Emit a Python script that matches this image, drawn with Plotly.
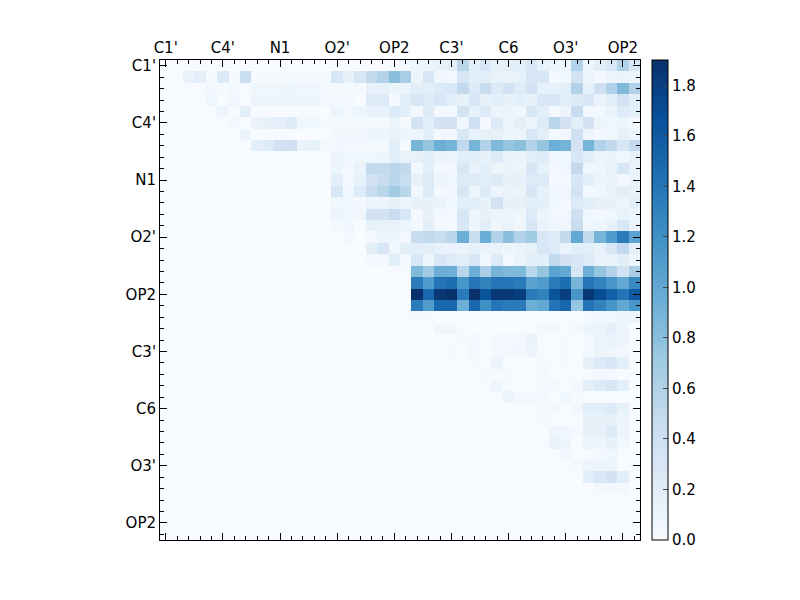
import plotly.graph_objects as go

n = 42
tick_pos = [0, 5, 10, 15, 20, 25, 30, 35, 40]
tick_text = ["C1'", "C4'", "N1", "O2'", "OP2", "C3'", "C6", "O3'", "OP2"]

# rows 0-17, columns 0-20
left = [
    [0] * 21,
    [0, 0, .12, .18, .02, .25, .02, .45, .02, .02, .02, .02, .02, .02, .02, .3, .15, .3, .5, .6, .8],
    [0, 0, 0, 0, .05, .02, .05, .02, .08, .08, .08, .1, .07, .07, .05, .03, .03, .03, .15, .15, .1],
    [0, 0, 0, 0, .08, 0, .06, 0, .1, .1, .1, .1, .1, .1, .05, .05, .05, 0, .25, .25, .05],
    [0, 0, 0, 0, 0, .1, 0, .2, 0, 0, 0, 0, 0, 0, 0, .1, .05, .1, .15, .15, .25],
    [0, 0, 0, 0, 0, 0, .05, 0, .12, .15, .18, .25, .08, .08, .03, .03, .03, .03, .03, .03, .1],
    [0, 0, 0, 0, 0, 0, 0, .1, 0, 0, 0, 0, 0, 0, 0, .06, .06, .06, .1, .1, .15],
    [0, 0, 0, 0, 0, 0, 0, 0, .2, .25, .35, .4, .12, .15, .05, .05, .05, .05, .03, .03, .2],
    [0, 0, 0, 0, 0, 0, 0, 0, 0, 0, 0, 0, 0, 0, 0, .1, .08, .08, .08, .1, .2],
    [0, 0, 0, 0, 0, 0, 0, 0, 0, 0, 0, 0, 0, 0, 0, .1, .05, .12, .5, .5, .55],
    [0, 0, 0, 0, 0, 0, 0, 0, 0, 0, 0, 0, 0, 0, 0, .2, .05, .15, .35, .45, .55],
    [0, 0, 0, 0, 0, 0, 0, 0, 0, 0, 0, 0, 0, 0, 0, .3, .08, .25, .45, .55, .7],
    [0, 0, 0, 0, 0, 0, 0, 0, 0, 0, 0, 0, 0, 0, 0, .08, .08, .05, .1, .1, .15],
    [0, 0, 0, 0, 0, 0, 0, 0, 0, 0, 0, 0, 0, 0, 0, .1, .08, .08, .35, .35, .45],
    [0, 0, 0, 0, 0, 0, 0, 0, 0, 0, 0, 0, 0, 0, 0, .05, .08, 0, .15, .15, .15],
    [0, 0, 0, 0, 0, 0, 0, 0, 0, 0, 0, 0, 0, 0, 0, 0, .05, 0, .05, .1, .1],
    [0, 0, 0, 0, 0, 0, 0, 0, 0, 0, 0, 0, 0, 0, 0, 0, 0, 0, .2, .3, .08],
    [0, 0, 0, 0, 0, 0, 0, 0, 0, 0, 0, 0, 0, 0, 0, 0, 0, 0, .05, .05, .2],
]

# rows 0-21, columns 21-41
right = [
    [.05, .1, .1, .15, .2, .55, .2, .3, .15, .2, .2, .3, .15, .1, .1, .6, .1, .2, .3, .6, .3],
    [.65, .1, .3, .08, .05, .3, .2, .2, .15, .12, .15, .3, .3, .05, .08, .35, .1, .05, .1, .12, .1],
    [.12, .2, .2, .25, .3, .5, .25, .45, .25, .35, .25, .35, .15, .15, .2, .6, .15, .4, .6, .85, .6],
    [.2, .3, .25, .3, .2, .15, .3, .15, .2, .15, .2, .15, .3, .3, .2, .25, .3, .12, .2, .35, .2],
    [.2, .05, .25, .05, .05, .35, .15, .25, .1, .12, .08, .3, .2, .05, .1, .45, .05, .05, .12, .25, .2],
    [.03, .35, .2, .35, .35, .08, .4, .05, .25, .1, .2, .1, .25, .55, .35, .2, .35, .1, .08, .1, .05],
    [.1, .1, .2, .05, .05, .3, .15, .15, .15, .1, .1, .3, .2, .05, .05, .4, .1, .05, .08, .15, .1],
    [.02, .9, .75, .95, .9, .5, .9, .6, .85, .75, .8, .6, .75, .95, .9, .35, .9, .6, .5, .3, .5],
    [.12, .15, .2, .12, .1, .2, .2, .15, .25, .12, .12, .2, .25, .08, .08, .3, .2, .1, .12, .08, .15],
    [.5, .05, .2, .05, .05, .3, .12, .2, .1, .12, .1, .3, .15, .05, .08, .5, .08, .08, .12, .3, .12],
    [.45, .15, .25, .1, .08, .25, .25, .2, .25, .15, .15, .25, .25, .05, .05, .3, .2, .1, .12, .05, .12],
    [.55, .05, .25, .05, .05, .3, .1, .25, .1, .12, .1, .3, .15, .08, .08, .35, .05, .08, .12, .2, .15],
    [.1, .15, .15, .12, .08, .2, .2, .15, .35, .15, .15, .2, .2, .08, .05, .25, .2, .15, .15, .1, .2],
    [.3, .05, .15, .05, .05, .3, .1, .15, .1, .1, .08, .25, .1, .05, .05, .4, .08, .05, .08, .15, .1],
    [.1, .05, .2, .05, .05, .3, .1, .2, .08, .12, .08, .3, .12, .08, .08, .45, .08, .1, .15, .3, .12],
    [.05, .45, .5, .45, .55, .95, .45, .95, .6, .8, .6, .7, .3, .25, .5, 1.0, .5, .9, 1.1, 1.35, 1.05],
    [.2, .2, .2, .15, .12, .12, .15, .12, .12, .1, .12, .15, .3, .25, .12, .2, .2, .15, .3, .5, .2],
    [.05, .3, .1, .3, .25, .2, .3, .08, .25, .05, .12, .2, .2, .5, .35, .3, .25, .12, .12, .2, .1],
    [.02, .85, .7, .95, .95, .55, .95, .65, .9, .85, .85, .55, .75, 1.05, 1.0, .3, .95, .75, .6, .35, .65],
    [0, 1.35, 1.1, 1.4, 1.45, 1.15, 1.4, 1.3, 1.4, 1.4, 1.35, 1.05, 1.1, 1.35, 1.45, .9, 1.4, 1.3, 1.15, 1.0, 1.25],
    [0, 1.9, 1.5, 1.85, 1.9, 1.35, 1.9, 1.65, 1.85, 1.85, 1.8, 1.35, 1.3, 1.65, 1.8, 1.15, 1.85, 1.7, 1.55, 1.4, 1.6],
    [0, 1.35, 1.1, 1.5, 1.5, .95, 1.5, 1.2, 1.4, 1.35, 1.35, .95, 1.0, 1.4, 1.5, .75, 1.4, 1.3, 1.15, 1.0, 1.15],
]

# rows 22-41, columns 21-41
lower = [
    [0, .03, .03, 0, 0, 0, 0, 0, 0, 0, 0, 0, 0, 0, 0, 0, .05, .08, .08, .1, .1],
    [0, 0, 0, .08, .08, 0, 0, 0, 0, 0, 0, 0, .06, .06, 0, .04, .1, .12, .18, .1, 0],
    [0, 0, 0, 0, 0, .03, .05, 0, .05, .04, .05, .12, 0, 0, .03, 0, .05, .1, .12, .1, 0],
    [0, 0, 0, 0, .03, 0, .05, 0, .05, .04, .06, .1, 0, 0, .03, 0, .04, .1, .08, .06, 0],
    [0, 0, 0, 0, 0, 0, .03, 0, .1, 0, 0, 0, .03, 0, .03, 0, .15, .25, .3, .2, 0],
    [0, 0, 0, 0, 0, 0, 0, .03, 0, .03, 0, 0, .04, 0, 0, 0, .03, .05, .04, 0, 0],
    [0, 0, 0, 0, 0, 0, 0, 0, .1, 0, 0, 0, .05, .05, 0, .05, .2, .25, .3, .2, 0],
    [0, 0, 0, 0, 0, 0, 0, 0, 0, .1, .05, .05, .05, 0, .08, .03, 0, 0, 0, 0, 0],
    [0, 0, 0, 0, 0, 0, 0, 0, 0, 0, 0, 0, .05, .05, 0, .05, .2, .2, .25, .15, 0],
    [0, 0, 0, 0, 0, 0, 0, 0, 0, 0, 0, 0, .03, 0, 0, 0, .15, .15, .15, .1, 0],
    [0, 0, 0, 0, 0, 0, 0, 0, 0, 0, 0, 0, 0, .07, .07, .04, .15, .15, .25, .1, 0],
    [0, 0, 0, 0, 0, 0, 0, 0, 0, 0, 0, 0, 0, .12, .1, 0, .1, .1, .15, .08, 0],
    [0, 0, 0, 0, 0, 0, 0, 0, 0, 0, 0, 0, 0, 0, .04, 0, 0, .05, .08, 0, 0],
    [0, 0, 0, 0, 0, 0, 0, 0, 0, 0, 0, 0, 0, 0, 0, .03, .1, .1, .1, 0, 0],
    [0, 0, 0, 0, 0, 0, 0, 0, 0, 0, 0, 0, 0, 0, 0, 0, .2, .3, .35, .2, 0],
    [0, 0, 0, 0, 0, 0, 0, 0, 0, 0, 0, 0, 0, 0, 0, 0, 0, .05, .05, .04, 0],
    [0] * 21,
    [0] * 21,
    [0] * 21,
    [0] * 21,
]

z = []
for i in range(n):
    lpart = left[i] if i < len(left) else [0] * 21
    rpart = right[i] if i < len(right) else lower[i - len(right)]
    z.append(lpart + rpart)

fig = go.Figure(go.Heatmap(
    z=z, x=list(range(n)), y=list(range(n)),
    colorscale="Blues", zmin=0, zmax=1.9,
    colorbar=dict(x=1.025, xanchor="left", xpad=0, ypad=0, y=0.5, len=1.0, lenmode="fraction",
                  thickness=16, outlinecolor="black", outlinewidth=1,
                  tickvals=[0, .2, .4, .6, .8, 1.0, 1.2, 1.4, 1.6, 1.8],
                  ticktext=["0.0", "0.2", "0.4", "0.6", "0.8", "1.0", "1.2", "1.4", "1.6", "1.8"],
                  ticks="inside", ticklen=5, tickfont=dict(size=15, color="black")),
))

axis_common = dict(range=[-0.5, n - 0.5], showgrid=False, zeroline=False,
                   showline=True, linecolor="black", linewidth=1, mirror="ticks",
                   ticks="inside", ticklen=7, tickcolor="black",
                   tickvals=tick_pos, ticktext=tick_text,
                   tickfont=dict(size=15, color="black"),
                   minor=dict(dtick=1, tick0=0, ticks="inside", ticklen=4, tickcolor="black"))

fig.update_xaxes(side="top", **axis_common)
fig.update_yaxes(autorange=False, **{**axis_common, "range": [n - 0.5, -0.5]})

fig.update_layout(width=800, height=600, margin=dict(l=152, r=168, t=52, b=68),
                  paper_bgcolor="white", plot_bgcolor="white",
                  font=dict(family="DejaVu Sans"))

fig.write_html("out.html")
